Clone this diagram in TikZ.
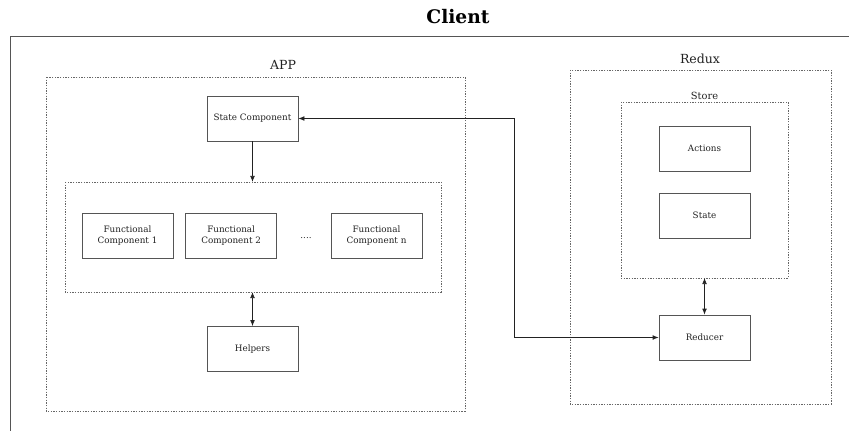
\documentclass[tikz,border=0pt]{standalone}
\usepackage{fontspec}
\setmainfont{DejaVu Serif}
\usepackage{xcolor}
\usetikzlibrary{arrows.meta,positioning}
\definecolor{paper}{HTML}{FFFFFF}
\definecolor{ink}{HTML}{222222}
\definecolor{line}{HTML}{555555}
\definecolor{dots}{HTML}{666666}
\tikzset{
  blockbox/.style={
    draw=line,
    fill=paper,
    line width=0.5pt,
    minimum width=68.25pt,
    minimum height=33.75pt,
    inner sep=0pt,
    align=center,
    font=\fontsize{6.6}{8.25}\selectfont,
    text=ink
  },
  groupbox/.style={
    draw=dots,
    line width=0.5pt,
    dash pattern=on 1pt off 1pt
  },
  grouplabel/.style={font=\fontsize{9.4}{11}\selectfont, text=ink},
  linkarrow/.style={-{Latex[length=4.5pt,width=3.5pt]}, line width=0.5pt, draw=ink},
  bothways/.style={{Latex[length=4.5pt,width=3.5pt]}-{Latex[length=4.5pt,width=3.5pt]}, line width=0.5pt, draw=ink}
}

\begin{document}
\begin{tikzpicture}[x=0.75pt,y=-0.75pt]
      \useasboundingbox (0,0) rectangle (849,431);
      % outer client frame
      \node[font=\fontsize{14}{16}\selectfont\bfseries] (client) at (458,17) {Client};
      \draw[line width=0.6pt, draw=line] (849,36) -- (10,36) -- (10,431);

      % app side
      \draw[groupbox] (46,77) rectangle (465,411);
      \node[grouplabel] (app) at (283,65) {APP};
      \node[blockbox] (statecomp) at (252.5,118.5) {State Component};
      \draw[groupbox] (65,182) rectangle (441,292);
      \coordinate (fctop) at (252.5,182);
      \coordinate (fcbot) at (252.5,292);
      \node[blockbox] (fc1) at (127.5,235.5) {Functional\\Component 1};
      \node[blockbox,right=9pt of fc1] (fc2) {Functional\\Component 2};
      \node[blockbox] (fcn) at (376.5,235.5) {Functional\\Component n};
      \node[font=\fontsize{6.6}{8}\selectfont, text=ink] (more) at (306,238) {....};
      \node[blockbox] (helpers) at (252.5,349) {Helpers};
      \draw[linkarrow] (statecomp) -- (fctop);
      \draw[bothways] (fcbot) -- (helpers);

      % redux side
      \draw[groupbox] (570,70) rectangle (831,404);
      \node[grouplabel] (redux) at (700,59) {Redux};
      \draw[groupbox] (621,102) rectangle (788,278);
      \node[font=\fontsize{7.4}{9}\selectfont, text=ink] (store) at (704.5,96) {Store};
      \coordinate (storebot) at (704.5,278);
      \node[blockbox] (actions) at (704.5,148.5) {Actions};
      \node[blockbox] (state) at (704.5,215.5) {State};
      \node[blockbox] (reducer) at (704.5,337.5) {Reducer};
      \draw[bothways] (storebot) -- (reducer);

      % app <-> redux
      \coordinate (bend) at (514,118.5);
      \draw[bothways] (statecomp.east) -- (bend) |- (reducer.west);
    \end{tikzpicture}
\end{document}
